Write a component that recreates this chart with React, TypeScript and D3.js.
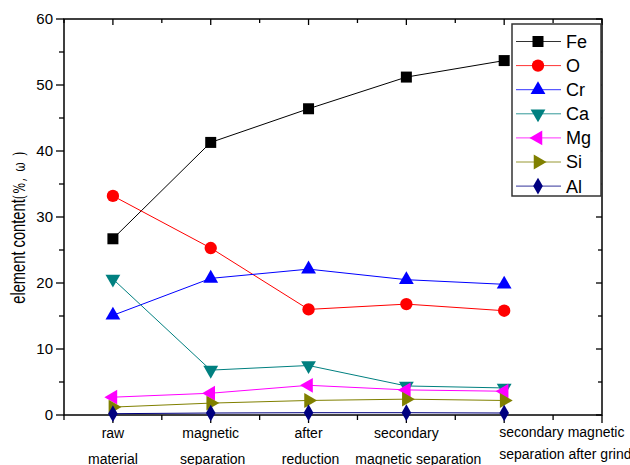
import React from 'react';
import * as d3 from 'd3';

// stages along the process
const stages = [
  ['raw', 'material'],
  ['magnetic', 'separation'],
  ['after', 'reduction'],
  ['secondary', 'magnetic separation'],
  ['secondary magnetic', 'separation after grind'],
];

const fe = [26.7, 41.3, 46.4, 51.2, 53.7];
const o = [33.2, 25.3, 16.0, 16.8, 15.8];
const cr = [15.1, 20.7, 22.1, 20.5, 19.8];
const ca = [20.6, 6.8, 7.5, 4.4, 4.1];
const mg = [2.7, 3.3, 4.5, 3.8, 3.6];
const si = [1.2, 1.8, 2.2, 2.4, 2.2];
const al = [0.2, 0.3, 0.35, 0.35, 0.3];

const yTicks = [0, 10, 20, 30, 40, 50, 60];

const series = [
  { name: 'Fe', values: fe, color: '#000000', shape: 'square' },
  { name: 'O', values: o, color: '#FF0000', shape: 'circle' },
  { name: 'Cr', values: cr, color: '#0000FF', shape: 'up' },
  { name: 'Ca', values: ca, color: '#008080', shape: 'down' },
  { name: 'Mg', values: mg, color: '#FF00FF', shape: 'left' },
  { name: 'Si', values: si, color: '#808000', shape: 'right' },
  { name: 'Al', values: al, color: '#000080', shape: 'diamond' },
];

const W = 630;
const H = 465;
const margin = { top: 19, right: 28, bottom: 50, left: 64 };

const Marker = ({ shape, x, y, color }) => {
  let d;
  let rot = 0;
  if (shape === 'square') d = d3.symbol(d3.symbolSquare, 121)();
  else if (shape === 'circle') d = d3.symbol(d3.symbolCircle, 120)();
  else if (shape === 'diamond') d = d3.symbol(d3.symbolDiamond, 80)();
  else {
    d = d3.symbol(d3.symbolTriangle, 95)();
    rot = shape === 'down' ? 180 : shape === 'left' ? -90 : shape === 'right' ? 90 : 0;
  }
  return <path d={d} fill={color} transform={`translate(${x},${y}) rotate(${rot})`} />;
};

export default function App() {
  const x = d3.scaleLinear().domain([-0.5, 5]).range([margin.left, W - margin.right]);
  const y = d3.scaleLinear().domain([0, 60]).range([H - margin.bottom, margin.top]);

  const line = d3.line<number>()
    .x((d, i) => x(i))
    .y(d => y(d));

  const x0 = x.range()[0], x1 = x.range()[1];
  const y0 = y.range()[0], y1 = y.range()[1];

  const majorX = d3.range(0, 6);
  const minorX = d3.range(-0.5, 5, 1);
  const minorY = d3.range(5, 60, 10);

  const font = 'Arial, "Liberation Sans", sans-serif';

  const legX = 512, legY = 24, legW = 89, legH = 172;

  return (
    <svg width={W} height={H} style={{ position: 'absolute', left: 0, top: 0, background: '#fff' }} fontFamily={font}>
      {/* frame */}
      <rect x={x0} y={y1} width={x1 - x0} height={y0 - y1} fill="none" stroke="#000" strokeWidth={1.5} />

      {/* y ticks left (outward) and right (inward) */}
      {yTicks.map(t => (
        <g key={'y' + t}>
          <line x1={x0 - 8} x2={x0} y1={y(t)} y2={y(t)} stroke="#000" strokeWidth={1.3} />
          <line x1={x1 - 6} x2={x1} y1={y(t)} y2={y(t)} stroke="#000" strokeWidth={1.3} />
          <text x={x0 - 11} y={y(t)} dy="0.36em" textAnchor="end" fontSize={15}>{t}</text>
        </g>
      ))}
      {minorY.map(t => (
        <g key={'ym' + t}>
          <line x1={x0 - 5} x2={x0} y1={y(t)} y2={y(t)} stroke="#000" strokeWidth={1.3} />
          <line x1={x1 - 4} x2={x1} y1={y(t)} y2={y(t)} stroke="#000" strokeWidth={1.3} />
        </g>
      ))}

      {/* x ticks bottom (outward) and top (inward) */}
      {majorX.map(t => (
        <g key={'x' + t}>
          <line x1={x(t)} x2={x(t)} y1={y0} y2={y0 + 8} stroke="#000" strokeWidth={1.3} />
          <line x1={x(t)} x2={x(t)} y1={y1} y2={y1 + 6} stroke="#000" strokeWidth={1.3} />
        </g>
      ))}
      {minorX.map(t => (
        <g key={'xm' + t}>
          <line x1={x(t)} x2={x(t)} y1={y0} y2={y0 + 5} stroke="#000" strokeWidth={1.3} />
          <line x1={x(t)} x2={x(t)} y1={y1} y2={y1 + 4} stroke="#000" strokeWidth={1.3} />
        </g>
      ))}

      {/* x labels */}
      {stages.map((s, i) => {
        const last = i === stages.length - 1;
        const shift2 = i === 3 ? 12 : i === 0 ? 0 : 2;
        return (
          <text key={'lab' + i} fontSize={14} textAnchor={last ? 'start' : 'middle'}>
            <tspan x={last ? x(i) - 5 : x(i)} y={last ? 437 : 438}>{s[0]}</tspan>
            <tspan x={last ? x(i) - 5 : x(i) + shift2} y={last ? 459 : 463.5}>{s[1]}</tspan>
          </text>
        );
      })}

      {/* y title */}
      <text transform={`translate(25,227) rotate(-90) scale(0.7,1)`} textAnchor="middle" fontSize={21}>
        element content<tspan fontFamily="'DejaVu Serif', serif" fontSize={16} letterSpacing={2}>(%, ω )</tspan>
      </text>

      {/* series */}
      {series.map(s => (
        <g key={s.name}>
          <path d={line(s.values) || ''} fill="none" stroke={s.color} strokeWidth={1} />
          {s.values.map((v, i) => (
            <Marker key={i} shape={s.shape} x={x(i)} y={y(v)} color={s.color} />
          ))}
        </g>
      ))}

      {/* legend */}
      <rect x={legX} y={legY} width={legW} height={legH} fill="#fff" stroke="#333" strokeWidth={1.5} />
      {series.map((s, i) => {
        const ly = 41.5 + i * 24.1;
        return (
          <g key={'leg' + s.name}>
            <line x1={legX + 4} x2={legX + 49} y1={ly} y2={ly} stroke={s.color} strokeWidth={1} opacity={0.8} />
            <Marker shape={s.shape} x={legX + 26} y={ly} color={s.color} />
            <text x={legX + 54} y={ly} dy="0.36em" fontSize={18}>{s.name}</text>
          </g>
        );
      })}
    </svg>
  );
}
